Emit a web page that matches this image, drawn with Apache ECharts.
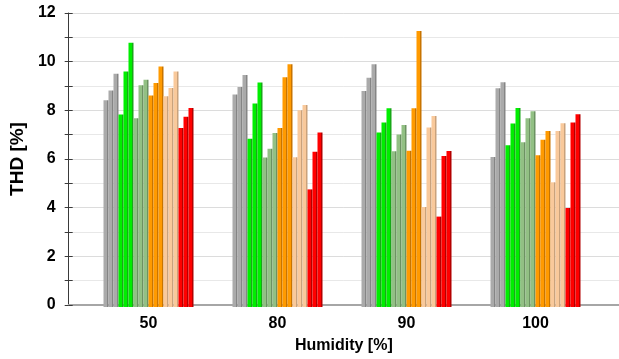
<!DOCTYPE html>
<html>
<head>
<meta charset="utf-8">
<script src="https://cdn.jsdelivr.net/npm/echarts@6/dist/echarts.min.js"></script>
<style>
  html, body { margin: 0; padding: 0; background: #ffffff; }
  #chart { width: 619px; height: 359px; }
</style>
</head>
<body>
<div id="chart"></div>
<script>
// Humidity levels on the category axis
const humidity = ['50', '80', '90', '100'];
const yTicks = [0, 2, 4, 6, 8, 10, 12];

// THD [%] values: each family has three series, one value per humidity level
const thdGray   = [[8.44, 8.67, 8.82, 6.12], [8.84, 8.98, 9.36, 8.93], [9.52, 9.47, 9.91, 9.17]];
const thdGreen  = [[7.86, 6.87, 7.12, 6.60], [9.61, 8.31, 7.53, 7.49], [10.79, 9.16, 8.11, 8.12]];
const thdSage   = [[7.70, 6.10, 6.36, 6.72], [9.05, 6.46, 7.04, 7.70], [9.28, 7.10, 7.43, 7.99]];
const thdOrange = [[8.63, 7.31, 6.38, 6.19], [9.14, 9.38, 8.11, 6.83], [9.82, 9.91, 11.27, 7.18]];
const thdPeach  = [[8.60, 6.11, 4.08, 5.09], [8.94, 8.03, 7.33, 7.18], [9.61, 8.25, 7.80, 7.50]];
const thdRed    = [[7.31, 4.80, 3.69, 4.04], [7.77, 6.34, 6.16, 7.53], [8.12, 7.12, 6.37, 7.87]];

const families = [
  { key: 'A', data: thdGray,   body: '#aaaaaa', edge: '#858585' },
  { key: 'B', data: thdGreen,  body: '#00ee00', edge: '#18a818' },
  { key: 'C', data: thdSage,   body: '#92c084', edge: '#6c9262' },
  { key: 'D', data: thdOrange, body: '#ff9a00', edge: '#c87400' },
  { key: 'E', data: thdPeach,  body: '#f9c99b', edge: '#c9a27c' },
  { key: 'F', data: thdRed,    body: '#ff0000', edge: '#b40000' }
];

// Flat bar with a darker right-hand strip for a slight 3D look
function barFill(body, edge) {
  return new echarts.graphic.LinearGradient(0, 0, 1, 0, [
    { offset: 0, color: body },
    { offset: 0.68, color: body },
    { offset: 0.68, color: edge },
    { offset: 1, color: edge }
  ]);
}

const series = [];
families.forEach(f => {
  f.data.forEach((vals, i) => {
    series.push({
      name: f.key + (i + 1),
      type: 'bar',
      xAxisIndex: 1,
      yAxisIndex: 2,
      barWidth: 5,
      barGap: '0%',
      data: vals,
      itemStyle: { color: barFill(f.body, f.edge) },
      emphasis: { disabled: true },
      silent: true
    });
  });
});

const boldFamily = 'Arial, "Liberation Sans", sans-serif';
const labelFont = { fontFamily: boldFamily, fontWeight: 'bold', fontSize: 16, color: '#000' };
const gridTop = 13, gridBottom = 52;

const chart = echarts.init(document.getElementById('chart'), null, { renderer: 'canvas' });
chart.setOption({
  animation: false,
  backgroundColor: '#ffffff',
  grid: [
    { left: 62, right: 0, top: gridTop, bottom: gridBottom },
    { left: 84, right: 19, top: gridTop, bottom: gridBottom }
  ],
  xAxis: [
    {
      gridIndex: 0, type: 'value', min: 0, max: 1,
      axisLine: { show: true, lineStyle: { color: '#a6a6a6', width: 2 } },
      axisTick: { show: false }, axisLabel: { show: false }, splitLine: { show: false },
      name: 'Humidity [%]', nameLocation: 'middle', nameGap: 33,
      nameTextStyle: { fontFamily: boldFamily, fontWeight: 'bold', fontSize: 16, color: '#000' }
    },
    {
      gridIndex: 1, type: 'category', data: humidity,
      axisLine: { show: false }, axisTick: { show: false },
      axisLabel: Object.assign({ margin: 9 }, labelFont)
    }
  ],
  yAxis: [
    {
      gridIndex: 0, type: 'value', min: yTicks[0], max: yTicks[yTicks.length - 1], interval: 2,
      axisLine: { show: true, lineStyle: { color: '#3a3a3a', width: 1 } },
      axisTick: { show: true, length: 4, lineStyle: { color: '#3a3a3a' } },
      minorTick: { show: true, splitNumber: 2, length: 4, lineStyle: { color: '#3a3a3a' } },
      splitLine: { show: true, lineStyle: { color: '#dcdcdc', width: 1 } },
      minorSplitLine: { show: true, lineStyle: { color: '#e8e8e8', width: 1 } },
      axisLabel: Object.assign({ margin: 13 }, labelFont),
      name: 'THD [%]', nameLocation: 'middle', nameGap: 37, nameRotate: 90,
      nameTextStyle: { fontFamily: boldFamily, fontWeight: 'bold', fontSize: 19, color: '#000' }
    },
    {
      gridIndex: 0, type: 'value', position: 'left', min: 0, max: 12, interval: 2,
      axisLine: { show: false },
      axisTick: { show: true, inside: true, length: 4, lineStyle: { color: '#3a3a3a' } },
      minorTick: { show: true, splitNumber: 2, length: 4, lineStyle: { color: '#3a3a3a' } },
      axisLabel: { show: false }, splitLine: { show: false }
    },
    {
      gridIndex: 1, type: 'value', min: 0, max: 12, show: false
    }
  ],
  series: series
});
</script>
</body>
</html>
